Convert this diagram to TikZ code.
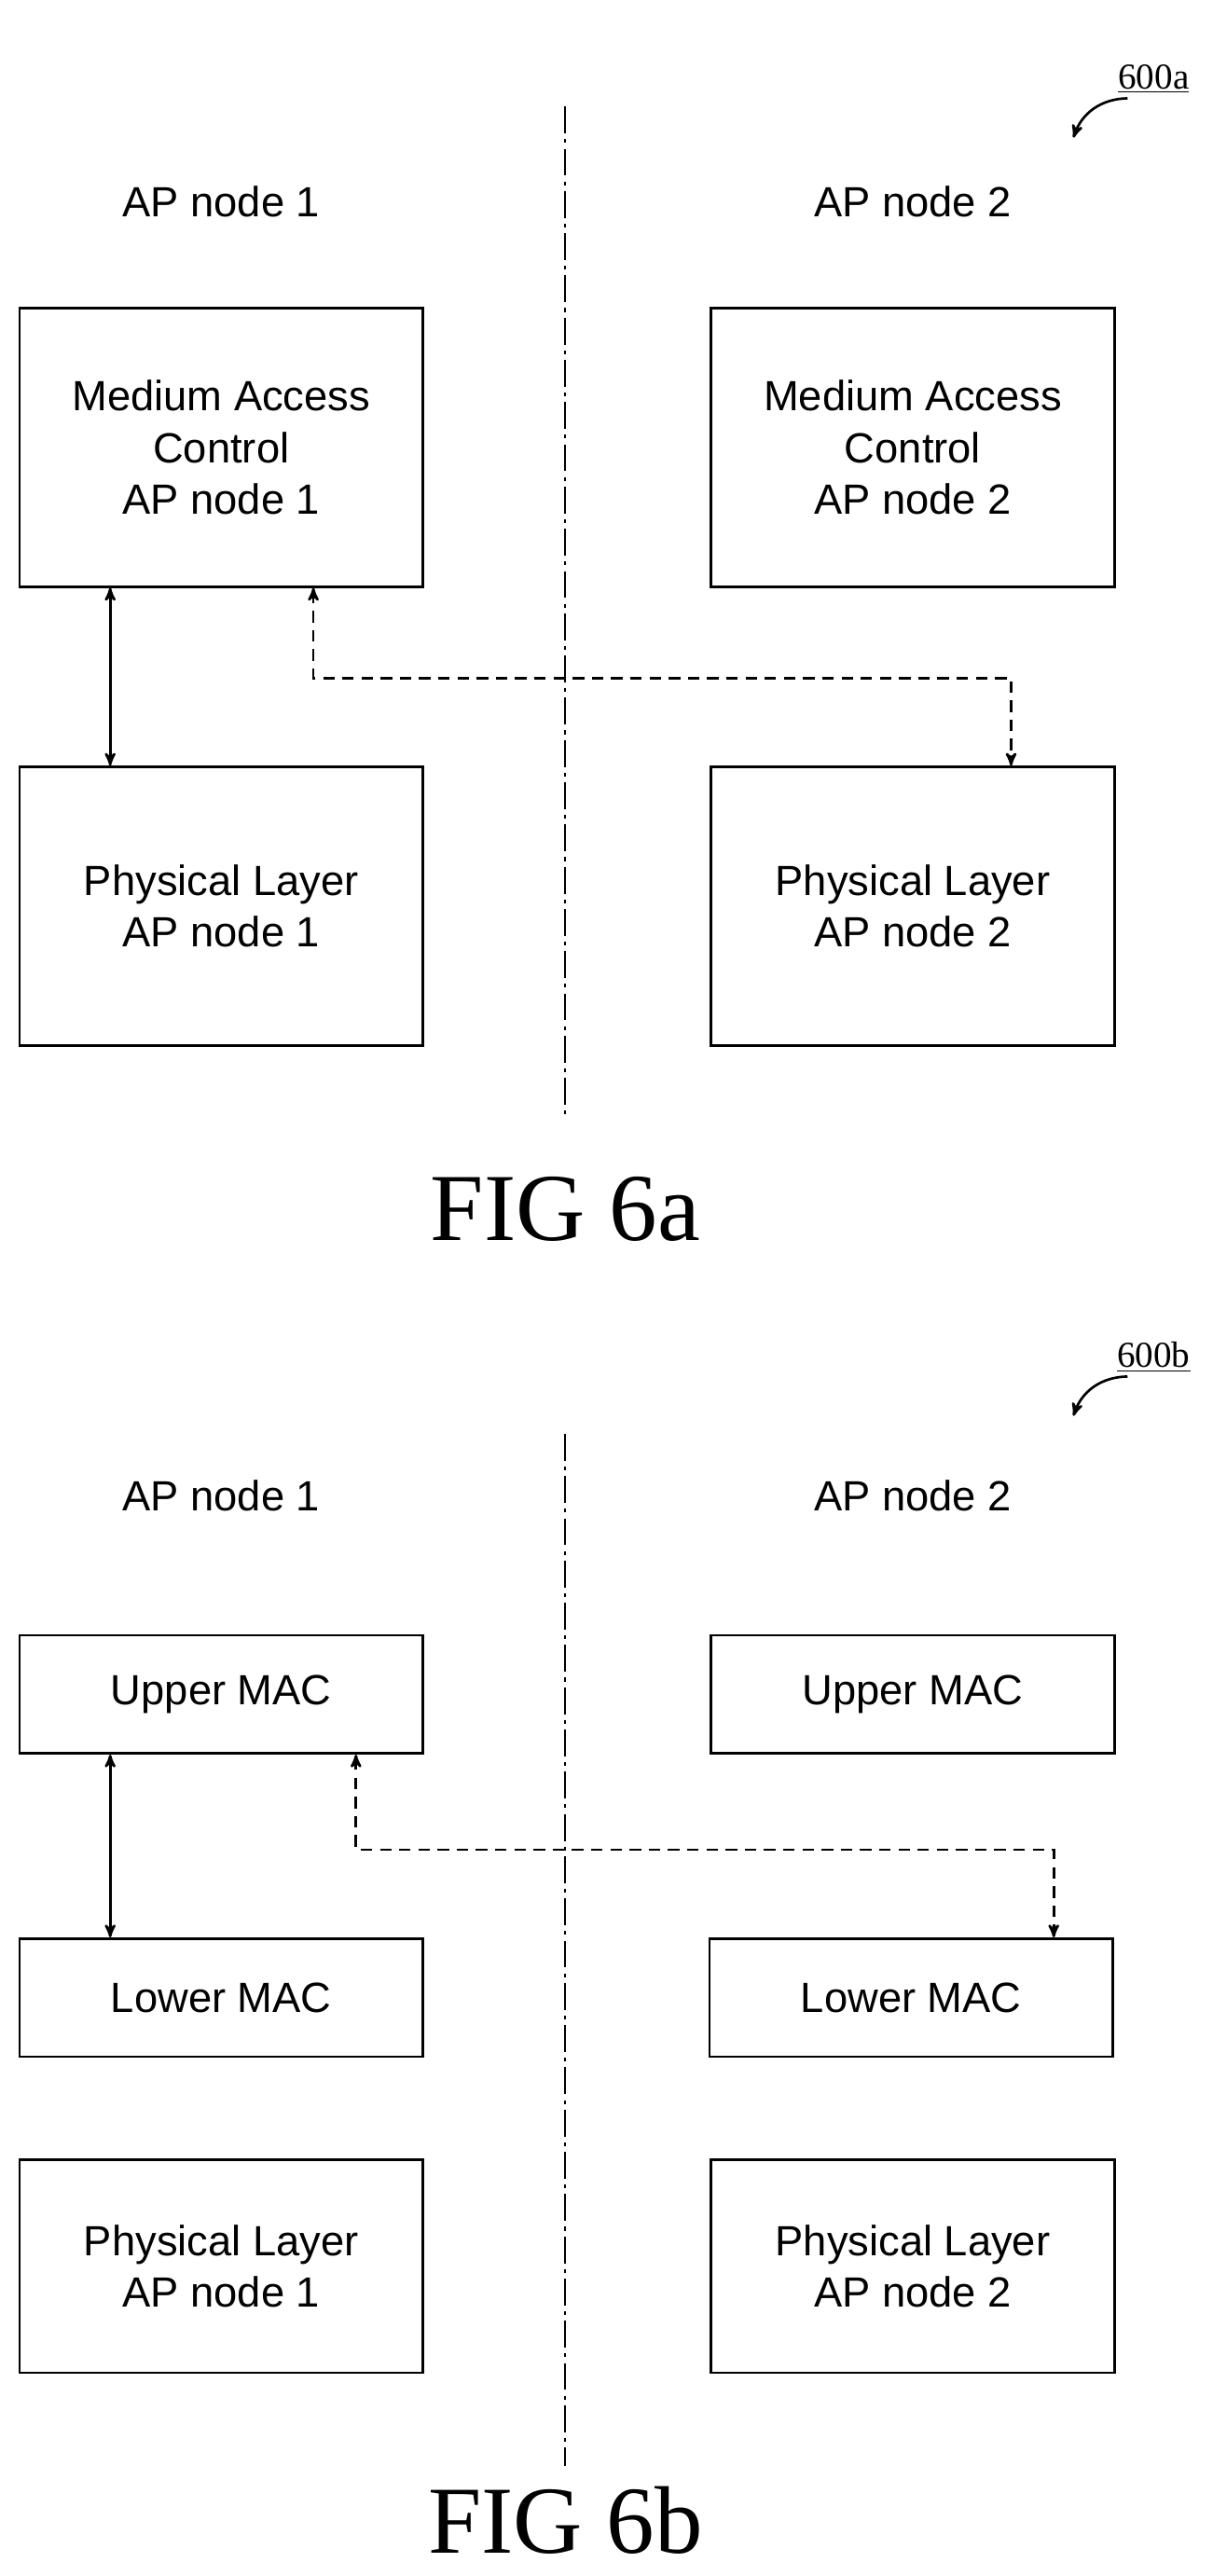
\documentclass[tikz,border=0pt]{standalone}
\usepackage{fontspec}
\setmainfont{Liberation Serif}
\setsansfont{Liberation Sans}
\usetikzlibrary{arrows,positioning}

\begin{document}
\begin{tikzpicture}[x=0.03cm,y=-0.03cm,>=stealth',line width=1.3pt,
    box/.style={draw,minimum width=7.38cm,align=center,inner sep=0pt,
                font=\sffamily\fontsize{22}{27}\selectfont},
    aplabel/.style={font=\sffamily\fontsize{22}{26}\selectfont},
    figlabel/.style={font=\fontsize{50}{52}\selectfont},
    reflabel/.style={font=\fontsize{19}{22}\selectfont},
    link/.style={<->,shorten >=0pt,shorten <=0pt,>={stealth'[scale=1.8]}},
    dlink/.style={link,dash pattern=on 6pt off 4pt},
    axis/.style={line width=1pt,dash pattern=on 14pt off 3pt on 2pt off 3pt}]

  \useasboundingbox (0,0) rectangle (740,1572);

  % FIG 6a
  \node[reflabel] (ref6a) at (704,48) {\underline{600a}};
  \coordinate (tip6a) at (655,84);
  \draw[->,>={stealth'[scale=1.6]}] (688,60) to[bend right=35] (tip6a);
  \coordinate (axtop6a) at (345,65);
  \coordinate (axbot6a) at (345,680);
  \draw[axis] (axtop6a) -- (axbot6a);

  \node[aplabel] (ap1) at (135,123) {AP node 1};
  \node[aplabel] (ap2) at (557,123) {AP node 2};

  \node[box,minimum height=5.1cm] (mac1) at (135,273) {Medium Access\\Control\\AP node 1};
  \node[box,minimum height=5.1cm] (mac2) at (557,273) {Medium Access\\Control\\AP node 2};
  \node[box,minimum height=5.1cm] (phy1) at (135,553) {Physical Layer\\AP node 1};
  \node[box,minimum height=5.1cm] (phy2) at (557,553) {Physical Layer\\AP node 2};

  \draw[link] (mac1.south west) ++(56,0) coordinate (s1) -- (s1 |- phy1.north);
  \draw[dlink] (mac1.south west) ++(180,0) coordinate (s2) -- ++(0,55)
        -| (617,0 |- phy2.north);

  \node[figlabel] (fig6a) at (345,738) {FIG 6a};

  % FIG 6b
  \node[reflabel] (ref6b) at (704,828) {\underline{600b}};
  \coordinate (tip6b) at (655,864);
  \draw[->,>={stealth'[scale=1.6]}] (688,840) to[bend right=35] (tip6b);
  \coordinate (axtop6b) at (345,875);
  \coordinate (axbot6b) at (345,1505);
  \draw[axis] (axtop6b) -- (axbot6b);

  \node[aplabel] (bap1) at (135,913) {AP node 1};
  \node[aplabel] (bap2) at (557,913) {AP node 2};

  \node[box,minimum height=2.16cm] (umac1) at (135,1034) {Upper MAC};
  \node[box,minimum height=2.16cm] (umac2) at (557,1034) {Upper MAC};
  \node[box,minimum height=2.16cm] (lmac1) at (135,1219) {Lower MAC};
  \node[box,minimum height=2.16cm] (lmac2) at (556,1219) {Lower MAC};
  \node[box,minimum height=3.9cm] (bphy1) at (135,1383) {Physical Layer\\AP node 1};
  \node[box,minimum height=3.9cm] (bphy2) at (557,1383) {Physical Layer\\AP node 2};

  \draw[link] (umac1.south west) ++(56,0) coordinate (t1) -- (t1 |- lmac1.north);
  \draw[dlink] (umac1.south west) ++(206,0) coordinate (t2) -- ++(0,58)
        -| (643,0 |- lmac2.north);

  \node[figlabel] (fig6b) at (345,1538) {FIG 6b};
\end{tikzpicture}
\end{document}
